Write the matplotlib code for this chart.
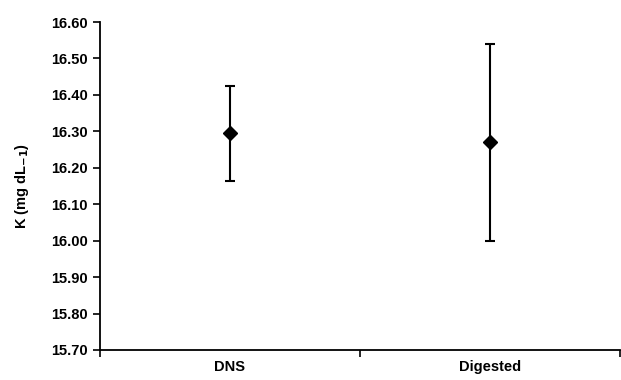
import matplotlib.pyplot as plt

plt.rcParams['font.family'] = ['Liberation Sans', 'DejaVu Sans']
plt.rcParams['font.weight'] = 'bold'

groups = ["DNS", "Digested"]
means = [16.295, 16.27]
errors = [0.13, 0.27]
yticks = [15.70, 15.80, 15.90, 16.00, 16.10, 16.20, 16.30, 16.40, 16.50, 16.60]

fig = plt.figure(figsize=(6.21, 3.8), dpi=100)
ax = fig.add_axes([0.161, 0.079, 0.837, 0.863])

xpos = [1, 2]
ax.errorbar(xpos, means, yerr=errors, fmt='D', color='black', markersize=7,
            elinewidth=1.5, capsize=3.5, capthick=1.5)

ax.set_xlim(0.5, 2.5)
ax.set_ylim(15.70, 16.60)
ax.set_yticks(yticks)
ax.set_yticklabels([f"{v:.2f}" for v in yticks], fontsize=10.5, fontweight='bold')

ax.set_xticks([0.5, 1.5, 2.5])
ax.set_xticklabels([])
ax.set_xticks(xpos, minor=True)
ax.set_xticklabels(groups, minor=True, fontsize=10.5, fontweight='bold')
ax.tick_params(axis='x', which='minor', length=0, pad=7)
ax.tick_params(axis='x', which='major', length=5, width=1.2)
ax.tick_params(axis='y', length=5, width=1.2, pad=4)

ax.spines['top'].set_visible(False)
ax.spines['right'].set_visible(False)
ax.spines['left'].set_linewidth(1.3)
ax.spines['bottom'].set_linewidth(1.3)

ax.set_ylabel("K (mg dL$_{-1}$)", fontsize=10.5, fontweight='bold', labelpad=14)

fig.savefig("out.png", dpi=100)
